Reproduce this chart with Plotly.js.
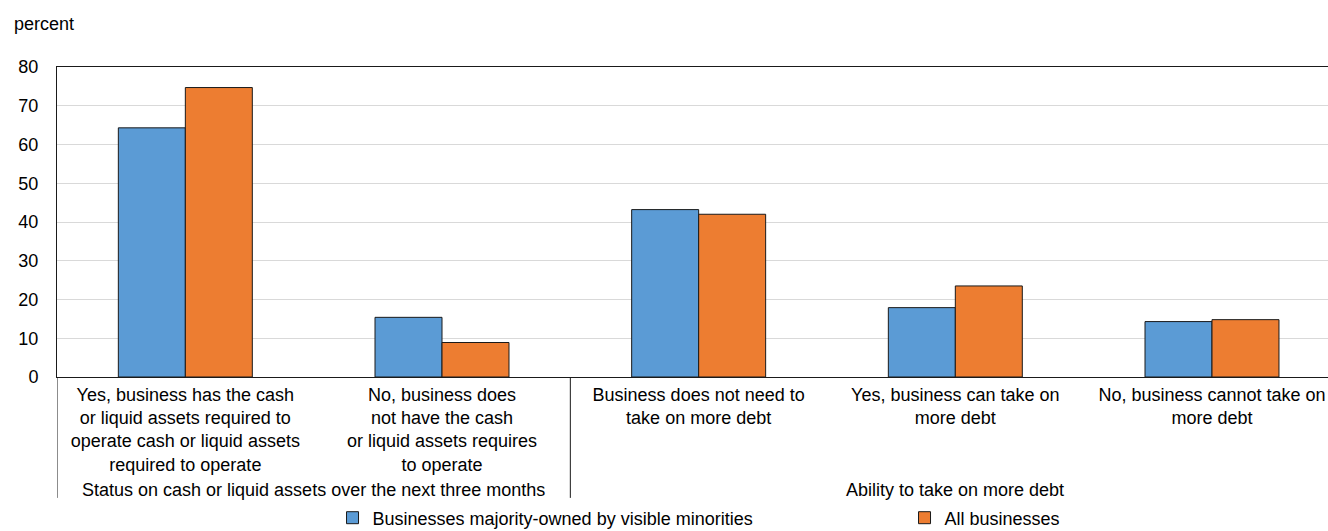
<!DOCTYPE html>
<html>
<head>
<meta charset="utf-8">
<script src="https://cdn.plot.ly/plotly-3.0.1.min.js"></script>
<style>
  html, body { margin: 0; padding: 0; background: #fff; }
  #chart { width: 1328px; height: 531px; }
</style>
</head>
<body>
<div id="chart"></div>
<script>
// ---- Data ----
var groupLabels = [
  "Status on cash or liquid assets over the next three months",
  "Status on cash or liquid assets over the next three months",
  "Ability to take on more debt",
  "Ability to take on more debt",
  "Ability to take on more debt"
];
var categoryLabels = [
  "Yes, business has the cash<br>or liquid assets required to<br>operate cash or liquid assets<br>required to operate",
  "No, business does<br>not have the cash<br>or liquid assets requires<br>to operate",
  "Business does not need to<br>take on more debt",
  "Yes, business can take on<br>more debt",
  "No, business cannot take on<br>more debt"
];
var seriesNames = ["Businesses majority-owned by visible minorities", "All businesses"];
var visibleMinorities = [64.3, 15.4, 43.2, 17.9, 14.3];
var allBusinesses = [74.7, 8.9, 42.0, 23.5, 14.8];
var yTicks = [0, 10, 20, 30, 40, 50, 60, 70, 80];

var FONT = "'Liberation Sans', Arial, sans-serif";
var INK = "#1a1a1a";

// ---- Group spans (derived from groupLabels) ----
var groups = [];
groupLabels.forEach(function (g, i) {
  var last = groups[groups.length - 1];
  if (last && last.name === g) { last.end = i; }
  else { groups.push({ name: g, start: i, end: i }); }
});

var groupAnnotations = groups.map(function (g) {
  return {
    text: g.name,
    xref: "x",
    yref: "paper",
    x: (g.start + g.end) / 2,
    y: -0.366,
    xanchor: "center",
    yanchor: "middle",
    showarrow: false,
    font: { family: FONT, size: 18, color: "#000" }
  };
});

var dividerShapes = [];
groups.forEach(function (g) {
  [g.start - 0.5, g.end + 0.5].forEach(function (b) {
    var exists = dividerShapes.some(function (s) { return s.x0 === b; });
    if (!exists) {
      dividerShapes.push({
        type: "line",
        xref: "x",
        yref: "paper",
        x0: b, x1: b,
        y0: 0, y1: -0.39,
        line: { color: INK, width: 1 }
      });
    }
  });
});

var traces = [
  {
    type: "bar",
    name: seriesNames[0],
    x: categoryLabels,
    y: visibleMinorities,
    marker: { color: "#5B9BD5", line: { color: INK, width: 1 } },
    hoverinfo: "y"
  },
  {
    type: "bar",
    name: seriesNames[1],
    x: categoryLabels,
    y: allBusinesses,
    marker: { color: "#ED7D31", line: { color: INK, width: 1 } },
    hoverinfo: "y"
  }
];

var layout = {
  width: 1328,
  height: 531,
  margin: { l: 57, r: 0, t: 67, b: 154 },
  paper_bgcolor: "#ffffff",
  plot_bgcolor: "#ffffff",
  font: { family: FONT, size: 18, color: "#000000" },
  barmode: "group",
  bargap: 0.478,
  bargroupgap: 0,
  showlegend: true,
  legend: {
    orientation: "h",
    xref: "container",
    yref: "container",
    x: 0.2504,
    y: 0.0245,
    xanchor: "left",
    yanchor: "middle",
    entrywidth: 527,
    entrywidthmode: "pixels",
    font: { family: FONT, size: 18, color: "#000" },
    bgcolor: "rgba(0,0,0,0)"
  },
  xaxis: {
    type: "category",
    range: [-0.5, 4.452],
    showline: true,
    linecolor: INK,
    linewidth: 1,
    mirror: true,
    showgrid: false,
    ticks: "",
    ticklabelstandoff: 1,
    tickangle: 0,
    tickfont: { family: FONT, size: 18, color: "#000" },
    zeroline: false
  },
  yaxis: {
    range: [0, 80],
    tickvals: yTicks,
    ticktext: yTicks.map(String),
    showline: true,
    linecolor: INK,
    linewidth: 1,
    mirror: false,
    showgrid: true,
    gridcolor: "#d9d9d9",
    gridwidth: 1,
    zeroline: false,
    ticks: "",
    ticklabelstandoff: 14,
    tickfont: { family: FONT, size: 18, color: "#000" }
  },
  shapes: dividerShapes,
  annotations: [
    {
      text: "percent",
      xref: "paper",
      yref: "paper",
      x: -0.0357,
      y: 1.138,
      xanchor: "left",
      yanchor: "middle",
      showarrow: false,
      font: { family: FONT, size: 18, color: "#000" }
    }
  ].concat(groupAnnotations)
};

Plotly.newPlot("chart", traces, layout, { displayModeBar: false, staticPlot: true });
</script>
</body>
</html>
